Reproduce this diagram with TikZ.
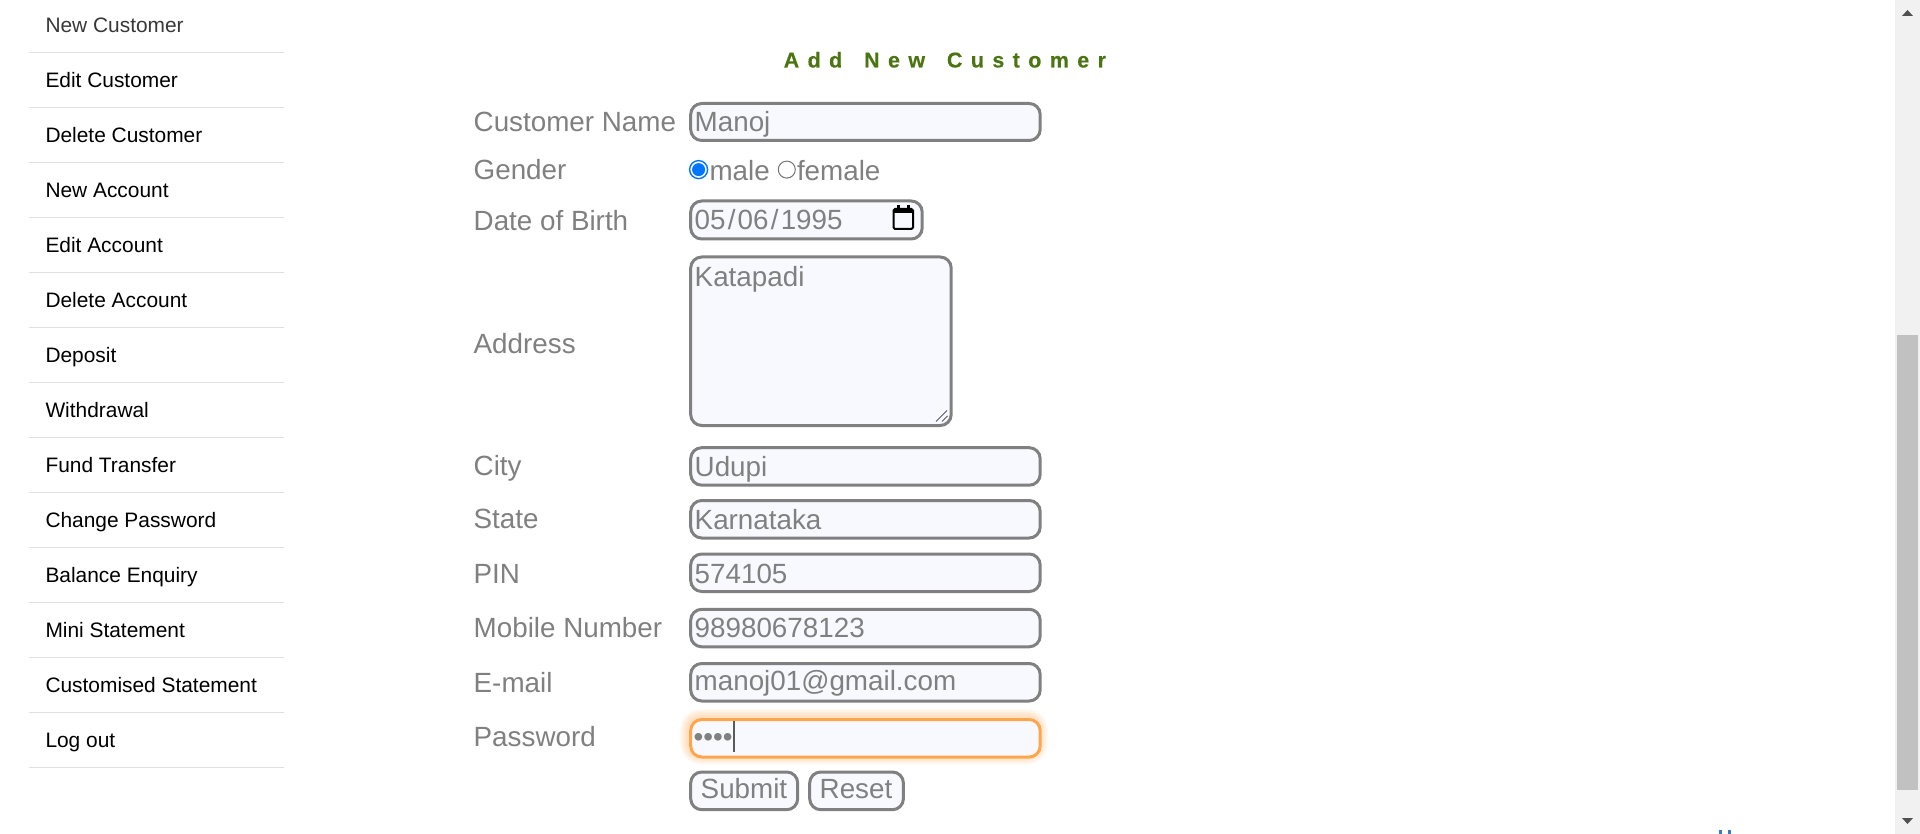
\documentclass[tikz,border=0pt]{standalone}
\usepackage{fontspec}
\usepackage{xcolor}
\setmainfont{Liberation Sans}
\newfontfamily\titlefont[LetterSpace=39,BoldFeatures={FakeBold=0.25}]{Liberation Sans}
\definecolor{greytext}{HTML}{808080}
\definecolor{boxfill}{HTML}{F8F9FF}
\definecolor{navline}{HTML}{DFDFDF}
\definecolor{titlegreen}{HTML}{4B7510}
\definecolor{focusorange}{HTML}{FFA64D}
\definecolor{radioblue}{HTML}{0075FF}
\definecolor{barback}{HTML}{F1F1F1}
\definecolor{barthumb}{HTML}{C1C1C1}
\definecolor{bararrow}{HTML}{505050}
\definecolor{linkblue}{HTML}{3A7CC0}
\tikzset{
  navitem/.style={anchor=base west,inner sep=0pt,text=black,font=\fontsize{20.9}{24}\selectfont},
  navrule/.style={navline,line width=1.2pt},
  fieldlabel/.style={anchor=base west,inner sep=0pt,text=greytext,font=\fontsize{27.8}{32}\selectfont},
  fieldtext/.style={fieldlabel},
  fieldbox/.style={draw=greytext,fill=boxfill,line width=3pt,rounded corners=11pt,anchor=north west,inner sep=0pt},
  glowring/.style={draw=focusorange,rounded corners=12pt,opacity=0.07,line width=#1}
}
\begin{document}
\begin{tikzpicture}[x=1pt,y=-1pt]
    \useasboundingbox (0,0) rectangle (1920,834);
    \fill[white] (0,0) rectangle (1920,834);

    \node[navitem,text=black!78] (navNewCustomer) at (45.3,32.3) {New Customer};
    \node[navitem] (navEditCustomer) at (45.3,87.3) {Edit Customer};
    \node[navitem] (navDeleteCustomer) at (45.3,142.3) {Delete Customer};
    \node[navitem] (navNewAccount) at (45.3,197.3) {New Account};
    \node[navitem] (navEditAccount) at (45.3,252.3) {Edit Account};
    \node[navitem] (navDeleteAccount) at (45.3,307.3) {Delete Account};
    \node[navitem] (navDeposit) at (45.3,362.3) {Deposit};
    \node[navitem] (navWithdrawal) at (45.3,417.3) {Withdrawal};
    \node[navitem] (navFundTransfer) at (45.3,472.3) {Fund Transfer};
    \node[navitem] (navChangePassword) at (45.3,527.3) {Change Password};
    \node[navitem] (navBalanceEnquiry) at (45.3,582.3) {Balance Enquiry};
    \node[navitem] (navMiniStatement) at (45.3,637.3) {Mini Statement};
    \node[navitem] (navCustomised) at (45.3,692.3) {Customised Statement};
    \node[navitem] (navLogOut) at (45.3,747.3) {Log out};

    \draw[navrule] (29.4,52.6) -- (284,52.6);
    \draw[navrule] (29.4,107.6) -- (284,107.6);
    \draw[navrule] (29.4,162.6) -- (284,162.6);
    \draw[navrule] (29.4,217.6) -- (284,217.6);
    \draw[navrule] (29.4,272.6) -- (284,272.6);
    \draw[navrule] (29.4,327.6) -- (284,327.6);
    \draw[navrule] (29.4,382.6) -- (284,382.6);
    \draw[navrule] (29.4,437.6) -- (284,437.6);
    \draw[navrule] (29.4,492.6) -- (284,492.6);
    \draw[navrule] (29.4,547.6) -- (284,547.6);
    \draw[navrule] (29.4,602.6) -- (284,602.6);
    \draw[navrule] (29.4,657.6) -- (284,657.6);
    \draw[navrule] (29.4,712.6) -- (284,712.6);
    \draw[navrule] (29.4,767.6) -- (284,767.6);

    \node[anchor=base west,inner sep=0pt,text=titlegreen,font=\fontsize{21.5}{24}\titlefont\bfseries] (title) at (783.5,67.5) {Add\kern7.5pt{} New\kern7.5pt{} Customer};

    \node[fieldlabel] (lblName) at (473.5,131.8) {Customer Name};
    \node[fieldlabel] (lblGender) at (473.5,179.5) {Gender};
    \node[fieldlabel] (lblBirth) at (473.5,230.8) {Date of Birth};
    \node[fieldlabel] (lblAddress) at (473.5,353.3) {Address};
    \node[fieldlabel] (lblCity) at (473.5,475.6) {City};
    \node[fieldlabel] (lblState) at (473.5,528.4) {State};
    \node[fieldlabel] (lblPin) at (473.5,583.5) {PIN};
    \node[fieldlabel] (lblMobile) at (473.5,637.3) {Mobile Number};
    \node[fieldlabel] (lblEmail) at (473.5,692.3) {E-mail};
    \node[fieldlabel] (lblPassword) at (473.5,746.3) {Password};

    \node[fieldbox,minimum width=349.5pt,minimum height=37pt] (boxName) at (689.2,102) {};
    \node[fieldbox,minimum width=231.5pt,minimum height=38pt] (boxBirth) at (689.2,199.5) {};
    \node[fieldbox,minimum width=260.5pt,minimum height=168.5pt] (boxAddress) at (689.2,255.5) {};
    \node[fieldbox,minimum width=349.5pt,minimum height=37.5pt] (boxCity) at (689.2,446.2) {};
    \node[fieldbox,minimum width=349.5pt,minimum height=37.5pt] (boxState) at (689.2,499) {};
    \node[fieldbox,minimum width=349.5pt,minimum height=37.5pt] (boxPin) at (689.2,552.5) {};
    \node[fieldbox,minimum width=349.5pt,minimum height=37.5pt] (boxMobile) at (689.2,607.8) {};
    \node[fieldbox,minimum width=349.5pt,minimum height=37.5pt] (boxEmail) at (689.2,662) {};

    \draw[glowring=18pt] (689.2,718) rectangle (1038.7,755.5);
    \draw[glowring=15pt] (689.2,718) rectangle (1038.7,755.5);
    \draw[glowring=12pt] (689.2,718) rectangle (1038.7,755.5);
    \draw[glowring=9pt] (689.2,718) rectangle (1038.7,755.5);
    \draw[glowring=6pt] (689.2,718) rectangle (1038.7,755.5);
    \node[fieldbox,draw=focusorange,minimum width=349.5pt,minimum height=37.5pt] (boxPassword) at (689.2,718) {};
    \node[fieldbox,minimum width=107pt,minimum height=37.7pt] (btnSubmit) at (689.2,770.5) {};
    \node[fieldbox,minimum width=93.7pt,minimum height=37.7pt] (btnReset) at (808.2,770.5) {};

    \node[fieldtext] (txtName) at (694.5,131.8) {Manoj};
    \node[fieldtext] (txtBirth) at (694.5,229.8) {05\kern2.2pt/\kern2.2pt06\kern2.2pt/\kern2.2pt1995};
    \node[fieldtext] (txtAddress) at (694.5,287) {Katapadi};
    \node[fieldtext] (txtCity) at (694.5,476.5) {Udupi};
    \node[fieldtext] (txtState) at (694.5,529.7) {Karnataka};
    \node[fieldtext] (txtPin) at (694.5,583) {574105};
    \node[fieldtext] (txtMobile) at (694.5,637.5) {98980678123};
    \node[fieldtext] (txtEmail) at (694.5,690.8) {manoj01@gmail.com};
    \node[fieldtext] (txtPassword) at (693.5,746.5) {••••};
    \draw[greytext!70!black,line width=2pt] (733.7,721) -- (733.7,751.7);
    \node[fieldtext] (txtSubmit) at (700.5,798.6) {Submit};
    \node[fieldtext] (txtReset) at (819.5,798.6) {Reset};

    \draw[radioblue,line width=1.4pt,fill=white] (698.6,169.6) circle (9pt);
    \fill[radioblue] (698.6,169.6) circle (6.5pt);
    \node[fieldtext] (txtMale) at (709.3,180.5) {male};
    \draw[black!55,line width=1pt,fill=white] (786.8,169.6) circle (8.5pt);
    \node[fieldtext] (txtFemale) at (796.8,180.5) {female};

    \draw[black,line width=2pt,rounded corners=1.5pt] (893.5,209) rectangle (913,229);
    \fill[black] (893.5,209) rectangle (913,213.5);
    \fill[black] (897,205.5) rectangle (899.5,209.5);
    \fill[black] (907,205.5) rectangle (909.5,209.5);

    \draw[black!65,line width=1pt] (936,421.5) -- (947,410.5);
    \draw[black!65,line width=1pt] (942,421.5) -- (947.5,416);

    \fill[barback] (1895,0) rectangle (1920,834);
    \fill[barthumb] (1897,335) rectangle (1918,789.7);
    \fill[bararrow] (1902,16) -- (1907.5,10) -- (1913,16) -- cycle;
    \fill[bararrow] (1902,818) -- (1907.5,824) -- (1913,818) -- cycle;

    \fill[linkblue] (1718.5,830) rectangle (1721.5,834);
    \fill[linkblue] (1728,830) rectangle (1731,834);
\end{tikzpicture}
\end{document}
